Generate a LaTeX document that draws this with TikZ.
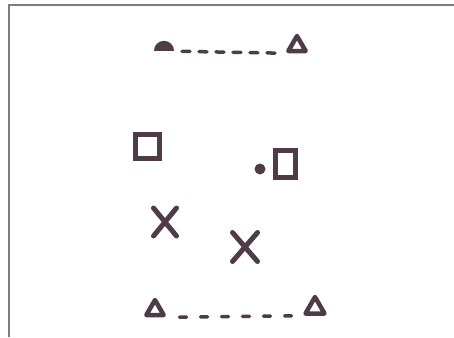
\documentclass[tikz,border=0pt]{standalone}
\usetikzlibrary{shapes.geometric,shapes.misc}
\definecolor{ink}{RGB}{78,60,72}
\definecolor{framegray}{RGB}{125,125,125}
\begin{document}
\begin{tikzpicture}[x=1pt,y=-1pt,
  tri/.style={regular polygon, regular polygon sides=3, draw=ink, line width=4.5pt, line join=round, inner sep=0pt, minimum size=20pt},
  sq/.style={rectangle, draw=ink, line width=5pt, inner sep=0pt},
  ex/.style={cross out, draw=ink, line width=5pt, line cap=round, inner sep=0pt, minimum width=18pt, minimum height=23pt},
  dome/.style={semicircle, fill=ink, inner sep=0pt, minimum width=20pt},
  blob/.style={circle, fill=ink, inner sep=0pt, minimum size=11pt},
  link/.style={draw=ink, line width=3.5pt, line cap=round}
]
\useasboundingbox (0,0) rectangle (454,337);
\fill[white] (0,0) rectangle (454,337);
\draw[framegray, line width=1.5pt] (9,337) -- (9,5) -- (454,5);

% top pair
\node[dome, anchor=chord center] (d) at (164,51) {};
\node[tri] (t1) at (297,46) {};
\draw[link, dash pattern=on 8pt off 9pt, shorten <=18pt, shorten >=5pt] (d.chord center) -- (t1.corner 2);

% squares and dot
\node[sq, minimum width=24pt, minimum height=24pt] (s1) at (147,146) {};
\node[blob] (b) at (260,169) {};
\node[sq, minimum width=20pt, minimum height=27pt] (s2) at (285,164) {};

% crosses
\node[ex] (x1) at (165,222) {};
\node[ex, minimum width=20pt, minimum height=24pt] (x2) at (245,247) {};

% bottom pair
\node[tri] (t2) at (155,310) {};
\node[tri, minimum size=22pt] (t3) at (315,308) {};
\draw[link, dash pattern=on 7pt off 14pt, shorten <=12pt, shorten >=6pt] (t2.corner 3) -- (t3.corner 2);
\end{tikzpicture}
\end{document}
